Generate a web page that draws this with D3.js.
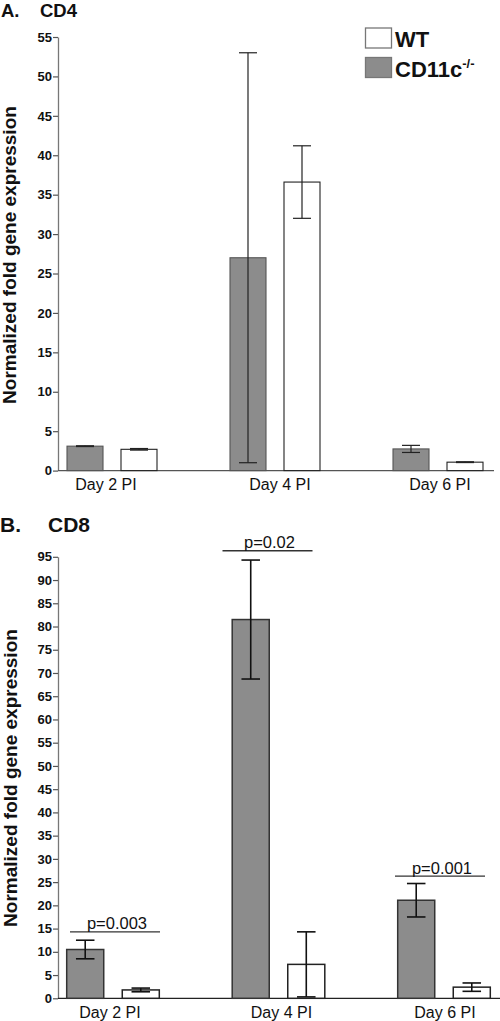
<!DOCTYPE html>
<html><head><meta charset="utf-8">
<script src="https://cdn.jsdelivr.net/npm/d3@7"></script>
<style>
html,body{margin:0;padding:0;background:#fff;}
svg{display:block;font-family:"Liberation Sans",Arial,Helvetica,sans-serif;}
</style></head>
<body>
<svg id="chart" width="500" height="1021"></svg>
<script>
// ---- data ----
const days = ["Day 2 PI", "Day 4 PI", "Day 6 PI"];
const seriesNames = ["CD11c-/-", "WT"];
const cd4KO = [3.1, 27.0, 2.75];
const cd4KOErr = [0.05, 26.0, 0.45];
const cd4WT = [2.7, 36.6, 1.07];
const cd4WTErr = [0.1, 4.6, 0.05];
const cd8KO = [10.5, 81.5, 21.1];
const cd8KOErr = [2.0, 12.8, 3.6];
const cd8WT = [1.8, 7.3, 2.4];
const cd8WTErr = [0.4, 7.0, 0.9];
const cd4Ticks = [0, 5, 10, 15, 20, 25, 30, 35, 40, 45, 50, 55];
const cd8Ticks = [0, 5, 10, 15, 20, 25, 30, 35, 40, 45, 50, 55, 60, 65, 70, 75, 80, 85, 90, 95];
const pLabels = ["p=0.003", "p=0.02", "p=0.001"];
const pLevels = [14.3, 96.3, 26.3];

const svg = d3.select("#chart");
const GRAY = "#8c8c8c";

function panel(o) {
  const g = svg.append("g");
  const y = d3.scaleLinear().domain([0, o.ymax]).range([o.y0, o.y1]);
  const x = d3.scalePoint().domain(days).range([o.xFirst, o.xLast]);
  const inner = d3.scaleBand().domain(seriesNames).range([-o.half, o.half]).paddingInner(1/3).paddingOuter(0);
  const bw = inner.bandwidth();

  // y axis
  const ax = g.append("g").attr("transform", `translate(${o.axisX},0)`)
    .call(d3.axisLeft(y).tickValues(o.ticks).tickSize(5).tickSizeOuter(0).tickPadding(1));
  ax.select(".domain").attr("stroke", "#777").attr("stroke-width", 1.3);
  ax.selectAll(".tick line").attr("stroke", "#555").attr("stroke-width", 1.2);
  ax.selectAll(".tick text").attr("fill", "#111").attr("font-weight", "bold")
    .attr("font-size", "13px").attr("font-family", "Liberation Sans, Arial, sans-serif");

  // baseline
  g.append("line").attr("x1", o.axisX).attr("x2", o.baseEnd)
    .attr("y1", y(0)).attr("y2", y(0)).attr("stroke", o.baseColor).attr("stroke-width", 1.3);

  const rows = [];
  days.forEach((d, i) => {
    rows.push({day: d, s: seriesNames[0], v: o.ko[i], e: o.koErr[i]});
    rows.push({day: d, s: seriesNames[1], v: o.wt[i], e: o.wtErr[i]});
  });

  // bars
  g.selectAll("rect.bar").data(rows).join("rect").attr("class", "bar")
    .attr("x", d => x(d.day) + inner(d.s))
    .attr("width", bw)
    .attr("y", d => y(d.v))
    .attr("height", d => y(0) - y(d.v))
    .attr("fill", d => d.s === "WT" ? "#fff" : GRAY)
    .attr("stroke", d => d.s === "WT" ? o.wtStroke : o.koStroke)
    .attr("stroke-width", o.barSW);

  // error bars
  const eb = g.selectAll("g.err").data(rows).join("g").attr("class", "err")
    .attr("stroke", o.errColor).attr("stroke-width", o.errSW);
  const cx = d => x(d.day) + inner(d.s) + bw / 2;
  eb.append("line").attr("x1", cx).attr("x2", cx)
    .attr("y1", d => y(d.v + d.e)).attr("y2", d => y(d.v - d.e));
  eb.append("line").attr("x1", d => cx(d) - bw / 4).attr("x2", d => cx(d) + bw / 4)
    .attr("y1", d => y(d.v + d.e)).attr("y2", d => y(d.v + d.e));
  eb.append("line").attr("x1", d => cx(d) - bw / 4).attr("x2", d => cx(d) + bw / 4)
    .attr("y1", d => y(d.v - d.e)).attr("y2", d => y(d.v - d.e));

  // x labels
  g.selectAll("text.xl").data(days).join("text").attr("class", "xl")
    .attr("x", (d, i) => x(d) + o.labelShift[i]).attr("y", o.labelY)
    .attr("text-anchor", "middle").attr("font-size", "16px").attr("fill", "#111")
    .text(d => d);

  // y title
  g.append("text")
    .attr("transform", `translate(${o.titleX},${o.titleCY}) rotate(-90)`)
    .attr("text-anchor", "middle").attr("font-weight", "bold").attr("font-size", "19px")
    .attr("fill", "#111").text("Normalized fold gene expression");

  return {x, y, g};
}

// ---- Panel A ----
const A = panel({
  ymax: 55, y0: 470.6, y1: 37, xFirst: 112, xLast: 438, half: 45, axisX: 58, baseEnd: 494,
  ticks: cd4Ticks, ko: cd4KO, koErr: cd4KOErr, wt: cd4WT, wtErr: cd4WTErr,
  barSW: 1.1, wtStroke: "#222", koStroke: "#555", errColor: "#222", errSW: 1.2,
  baseColor: "#555", labelY: 490, labelShift: [-6, 5, 2], titleX: 16, titleCY: 255
});
svg.append("text").attr("x", 1).attr("y", 17).attr("font-weight", "bold").attr("font-size", "18.5px")
  .attr("fill", "#111").text("A.");
svg.append("text").attr("x", 40).attr("y", 17).attr("font-weight", "bold").attr("font-size", "18.5px")
  .attr("fill", "#111").text("CD4");

// legend
const leg = svg.append("g");
const legItems = [{name: "WT", fill: "#fff", y: 28}, {name: "CD11c", sup: "-/-", fill: GRAY, y: 57.5}];
leg.selectAll("rect").data(legItems).join("rect")
  .attr("x", 365.5).attr("y", d => d.y).attr("width", 26).attr("height", 20)
  .attr("fill", d => d.fill).attr("stroke", "#777").attr("stroke-width", 1.3);
const lt = leg.selectAll("text").data(legItems).join("text")
  .attr("x", 395).attr("y", d => d.y + 19).attr("font-weight", "bold").attr("font-size", "22px").attr("fill", "#111");
lt.append("tspan").text(d => d.name);
lt.filter(d => d.sup).append("tspan").attr("font-size", "13px").attr("dy", -9).text(d => d.sup);

// ---- Panel B ----
const B = panel({
  ymax: 95, y0: 998.3, y1: 556.8, xFirst: 113, xLast: 444, half: 46.3, axisX: 58, baseEnd: 500,
  ticks: cd8Ticks, ko: cd8KO, koErr: cd8KOErr, wt: cd8WT, wtErr: cd8WTErr,
  barSW: 1.5, wtStroke: "#222", koStroke: "#333", errColor: "#111", errSW: 1.6,
  baseColor: "#222", labelY: 1017.5, labelShift: [-3, 3, 1], titleX: 17, titleCY: 778
});
svg.append("text").attr("x", 0).attr("y", 532).attr("font-weight", "bold").attr("font-size", "21px")
  .attr("fill", "#111").text("B.");
svg.append("text").attr("x", 48).attr("y", 532).attr("font-weight", "bold").attr("font-size", "21px")
  .attr("fill", "#111").text("CD8");

// p-value annotations
const pShift = [2, -11, -4];
const pg = B.g.append("g");
pLabels.forEach((p, i) => {
  const c = B.x(days[i]) + pShift[i];
  const yy = B.y(pLevels[i]);
  pg.append("line").attr("x1", c - 45).attr("x2", c + 45).attr("y1", yy).attr("y2", yy)
    .attr("stroke", "#333").attr("stroke-width", 1.3);
  pg.append("text").attr("x", c + 2).attr("y", yy - 2.5).attr("text-anchor", "middle")
    .attr("font-size", "16.5px").attr("fill", "#111").text(p);
});
</script>
</body></html>
